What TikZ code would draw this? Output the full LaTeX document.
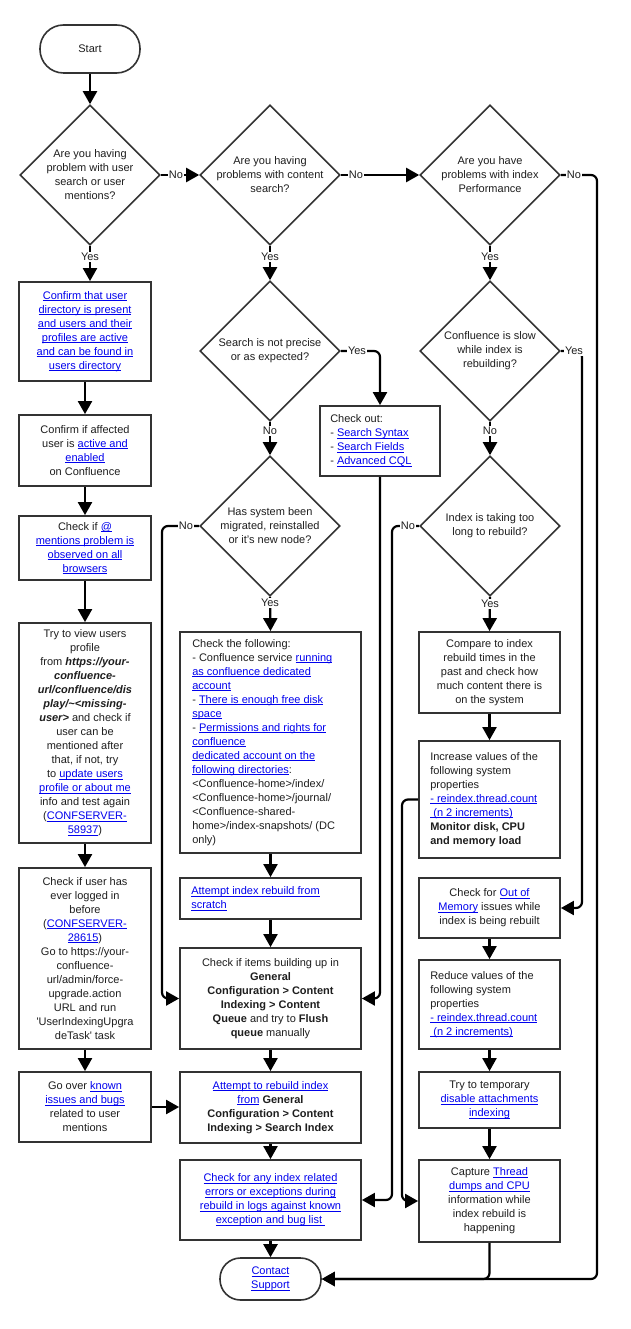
\documentclass[tikz,border=0pt]{standalone}
\usepackage{fontspec}
\setmainfont{Liberation Sans}
\usetikzlibrary{shapes.geometric,arrows.meta}
\definecolor{linkc}{RGB}{0,0,238}
\definecolor{edgec}{RGB}{51,51,51}
\definecolor{txtc}{RGB}{30,30,30}
\newsavebox{\lkbox}
\newcommand{\lk}[1]{\textcolor{linkc}{\sbox{\lkbox}{#1}\rlap{\rule[-1.6pt]{\wd\lkbox}{0.6pt}}\usebox{\lkbox}}}
\newcommand{\bi}[1]{\textbf{\textit{#1}}}
\begin{document}
\begin{tikzpicture}[x=1pt,y=-1pt,
  base/.style={font=\fontsize{11}{14}\selectfont, text=txtc},
  box/.style={base, draw=edgec, line width=1.8pt, fill=white, inner sep=2pt, align=center},
  ltxt/.style={base, align=left, anchor=west, inner sep=0pt},
  dia/.style={draw=edgec, line width=1.6pt, fill=white, diamond, inner sep=0pt, minimum width=140pt, minimum height=140pt, aspect=1},
  dtxt/.style={base, align=center, inner sep=0pt},
  term/.style={base, draw=edgec, line width=1.6pt, fill=white, rounded corners=20.5pt, align=center, inner sep=0pt},
  conn/.style={draw=black, line width=2.2pt, -{Triangle[length=13pt,width=14pt]}, rounded corners=6pt},
  lbl/.style={base, fill=white, inner sep=1pt}
]
\useasboundingbox (0,0) rectangle (631,1329);

% ---------- terminators ----------
\node[term, minimum width=100pt, minimum height=48pt, rounded corners=23.5pt] (start) at (90,49) {Start};
\node[term, minimum width=101pt, minimum height=42pt] (cs) at (270.5,1279) {\lk{Contact}\\\lk{Support}};

% ---------- diamonds ----------
\node[dia] (d1) at (90,175) {};
\node[dtxt] (d1t) at (d1.center) {Are you having\\problem with user\\search or user\\mentions?};
\node[dia] (d2) at (270,175) {};
\node[dtxt] (d2t) at (d2.center) {Are you having\\problems with content\\search?};
\node[dia] (d3) at (490,175) {};
\node[dtxt] (d3t) at (d3.center) {Are you have\\problems with index\\Performance};
\node[dia] (d4) at (270,351) {};
\node[dtxt] (d4t) at (d4.center) {Search is not precise\\or as expected?};
\node[dia] (d5) at (270,526) {};
\node[dtxt] (d5t) at (d5.center) {Has system been\\migrated, reinstalled\\or it's new node?};
\node[dia] (d6) at (490,351) {};
\node[dtxt] (d6t) at (d6.center) {Confluence is slow\\while index is\\rebuilding?};
\node[dia] (d7) at (490,526) {};
\node[dtxt] (d7t) at (d7.center) {Index is taking too\\long to rebuild?};

% ---------- column 1 ----------
\node[box, minimum width=132pt, minimum height=99pt] (b1) at (85,331.5)
  {\lk{Confirm that user}\\\lk{directory is present}\\\lk{and users and their}\\\lk{profiles are active}\\\lk{and can be found in}\\\lk{users directory}};
\node[box, minimum width=132pt, minimum height=71pt] (b2) at (85,450.5)
  {Confirm if affected\\user is \lk{active and}\\\lk{enabled}\\on Confluence};
\node[box, minimum width=132pt, minimum height=64pt] (b3) at (85,548)
  {Check if \lk{@}\\\lk{mentions problem is}\\\lk{observed on all}\\\lk{browsers}};
\node[box, minimum width=132pt, minimum height=220pt] (b4) at (85,733)
  {Try to view users\\profile\\from \bi{https://your-}\\\bi{confluence-}\\\bi{url/confluence/dis}\\\bi{play/\textasciitilde<missing-}\\\bi{user>} and check if\\user can be\\mentioned after\\that, if not, try\\to \lk{update users}\\\lk{profile or about me}\\info and test again\\(\lk{CONFSERVER-}\\\lk{58937})};
\node[box, minimum width=132pt, minimum height=181pt] (b5) at (85,958.5)
  {Check if user has\\ever logged in\\before\\(\lk{CONFSERVER-}\\\lk{28615})\\Go to https://your-\\confluence-\\url/admin/force-\\upgrade.action\\URL and run\\\textquotesingle UserIndexingUpgra\\deTask\textquotesingle\ task};
\node[box, minimum width=132pt, minimum height=70pt] (b6) at (85,1107)
  {Go over \lk{known}\\\lk{issues and bugs}\\related to user\\mentions};

% ---------- column 2 ----------
\node[box, minimum width=120pt, minimum height=70pt] (co) at (380,441) {};
\node[ltxt] (cot) at ([xshift=11pt]co.west)
  {Check out:\\- \lk{Search Syntax}\\- \lk{Search Fields}\\- \lk{Advanced CQL}};
\node[box, minimum width=181pt, minimum height=221pt] (cf) at (270.5,742.5) {};
\node[ltxt] (cft) at ([xshift=13pt]cf.west)
  {Check the following:\\- Confluence service \lk{running}\\\lk{as confluence dedicated}\\\lk{account}\\- \lk{There is enough free disk}\\\lk{space}\\- \lk{Permissions and rights for}\\\lk{confluence}\\\lk{dedicated account on the}\\\lk{following directories}:\\<Confluence-home>/index/\\<Confluence-home>/journal/\\<Confluence-shared-\\home>/index-snapshots/ (DC\\only)};
\node[box, minimum width=181pt, minimum height=41pt] (ar) at (270.5,898.5) {};
\node[ltxt] (art) at ([xshift=12pt]ar.west)
  {\lk{Attempt index rebuild from}\\\lk{scratch}};
\node[box, minimum width=181pt, minimum height=101pt] (ci) at (270.5,998.5)
  {Check if items building up in\\\textbf{General}\\\textbf{Configuration > Content}\\\textbf{Indexing > Content}\\\textbf{Queue} and try to \textbf{Flush}\\\textbf{queue} manually};
\node[box, minimum width=181pt, minimum height=71pt] (ri) at (270.5,1107.5)
  {\lk{Attempt to rebuild index}\\\lk{from} \textbf{General}\\\textbf{Configuration > Content}\\\textbf{Indexing > Search Index}};
\node[box, minimum width=181pt, minimum height=80pt] (ce) at (270.5,1200)
  {\lk{Check for any index related}\\\lk{errors or exceptions during}\\\lk{rebuild in logs against known}\\\lk{exception and bug list\ }};

% ---------- column 3 ----------
\node[box, minimum width=141pt, minimum height=81pt] (cm) at (489.5,672.5)
  {Compare to index\\rebuild times in the\\past and check how\\much content there is\\on the system};
\node[box, minimum width=141pt, minimum height=117pt] (iv) at (489.5,799.5) {};
\node[ltxt] (ivt) at ([xshift=12pt]iv.west)
  {Increase values of the\\following system\\properties\\\lk{- reindex.thread.count}\\\lk{\ (n 2 increments)}\\\textbf{Monitor disk, CPU}\\\textbf{and memory load}};
\node[box, minimum width=141pt, minimum height=60pt] (om) at (489.5,908)
  {Check for \lk{Out of}\\\lk{Memory} issues while\\index is being rebuilt};
\node[box, minimum width=141pt, minimum height=89pt] (rv) at (489.5,1004.5) {};
\node[ltxt] (rvt) at ([xshift=12pt]rv.west)
  {Reduce values of the\\following system\\properties\\\lk{- reindex.thread.count}\\\lk{\ (n 2 increments)}};
\node[box, minimum width=141pt, minimum height=56pt] (tt) at (489.5,1100)
  {Try to temporary\\\lk{disable attachments}\\\lk{indexing}};
\node[box, minimum width=141pt, minimum height=82pt] (cp) at (489.5,1201)
  {Capture \lk{Thread}\\\lk{dumps and CPU}\\information while\\index rebuild is\\happening};

% ---------- connectors ----------
\draw[conn] (start.south) -- (d1.north);
\draw[conn] (d1.east) -- (d2.west);
\draw[conn] (d2.east) -- (d3.west);
\draw[conn] (d3.east) -- (597,175) -- (597,1279) -- (cs.east);
\draw[conn] (cp.south) -- (cp.south |- cs.east) -- (cs.east);

\draw[conn] (d1.south) -- (d1.south |- b1.north);
\draw[conn] (b1.south) -- (b2.north);
\draw[conn] (b2.south) -- (b3.north);
\draw[conn] (b3.south) -- (b4.north);
\draw[conn] (b4.south) -- (b5.north);
\draw[conn] (b5.south) -- (b6.north);
\draw[conn] (b6.east) -- (ri.west |- b6.east);

\draw[conn] (d2.south) -- (d4.north);
\draw[conn] (d4.east) -- (co.north |- d4.east) -- (co.north);
\draw[conn] (d4.south) -- (d5.north);
\draw[conn] (d5.west) -- (162,526) -- (162,998.5) -- (ci.west);
\draw[conn] (d5.south) -- (cf.north);
\draw[conn] (cf.south) -- (ar.north);
\draw[conn] (ar.south) -- (ci.north);
\draw[conn] (ci.south) -- (ri.north);
\draw[conn] (ri.south) -- (ce.north);
\draw[conn] (ce.south) -- (cs.north);
\draw[conn] (co.south) -- (co.south |- ci.east) -- (ci.east);

\draw[conn] (d3.south) -- (d6.north);
\draw[conn] (d6.east) -- (582,351) -- (582,908) -- (om.east);
\draw[conn] (d6.south) -- (d7.north);
\draw[conn] (d7.west) -- (392,526) -- (392,1200) -- (ce.east);
\draw[conn] (d7.south) -- (cm.north);
\draw[conn] (cm.south) -- (iv.north);
\draw[conn] (iv.west) -- (402,799.5) -- (402,1201) -- (cp.west);
\draw[conn] (om.south) -- (rv.north);
\draw[conn] (rv.south) -- (tt.north);
\draw[conn] (tt.south) -- (cp.north);

% ---------- labels ----------
\node[lbl] (l1) at (176,175) {No};
\node[lbl] (l2) at (356,175) {No};
\node[lbl] (l3) at (574,175) {No};
\node[lbl] (l4) at (90,257) {Yes};
\node[lbl] (l5) at (270,257) {Yes};
\node[lbl] (l6) at (490,257) {Yes};
\node[lbl] (l7) at (357,351) {Yes};
\node[lbl] (l8) at (270,431) {No};
\node[lbl] (l9) at (186,526) {No};
\node[lbl] (l10) at (270,603) {Yes};
\node[lbl] (l11) at (574,351) {Yes};
\node[lbl] (l12) at (490,431) {No};
\node[lbl] (l13) at (408,526) {No};
\node[lbl] (l14) at (490,604) {Yes};
\end{tikzpicture}
\end{document}
